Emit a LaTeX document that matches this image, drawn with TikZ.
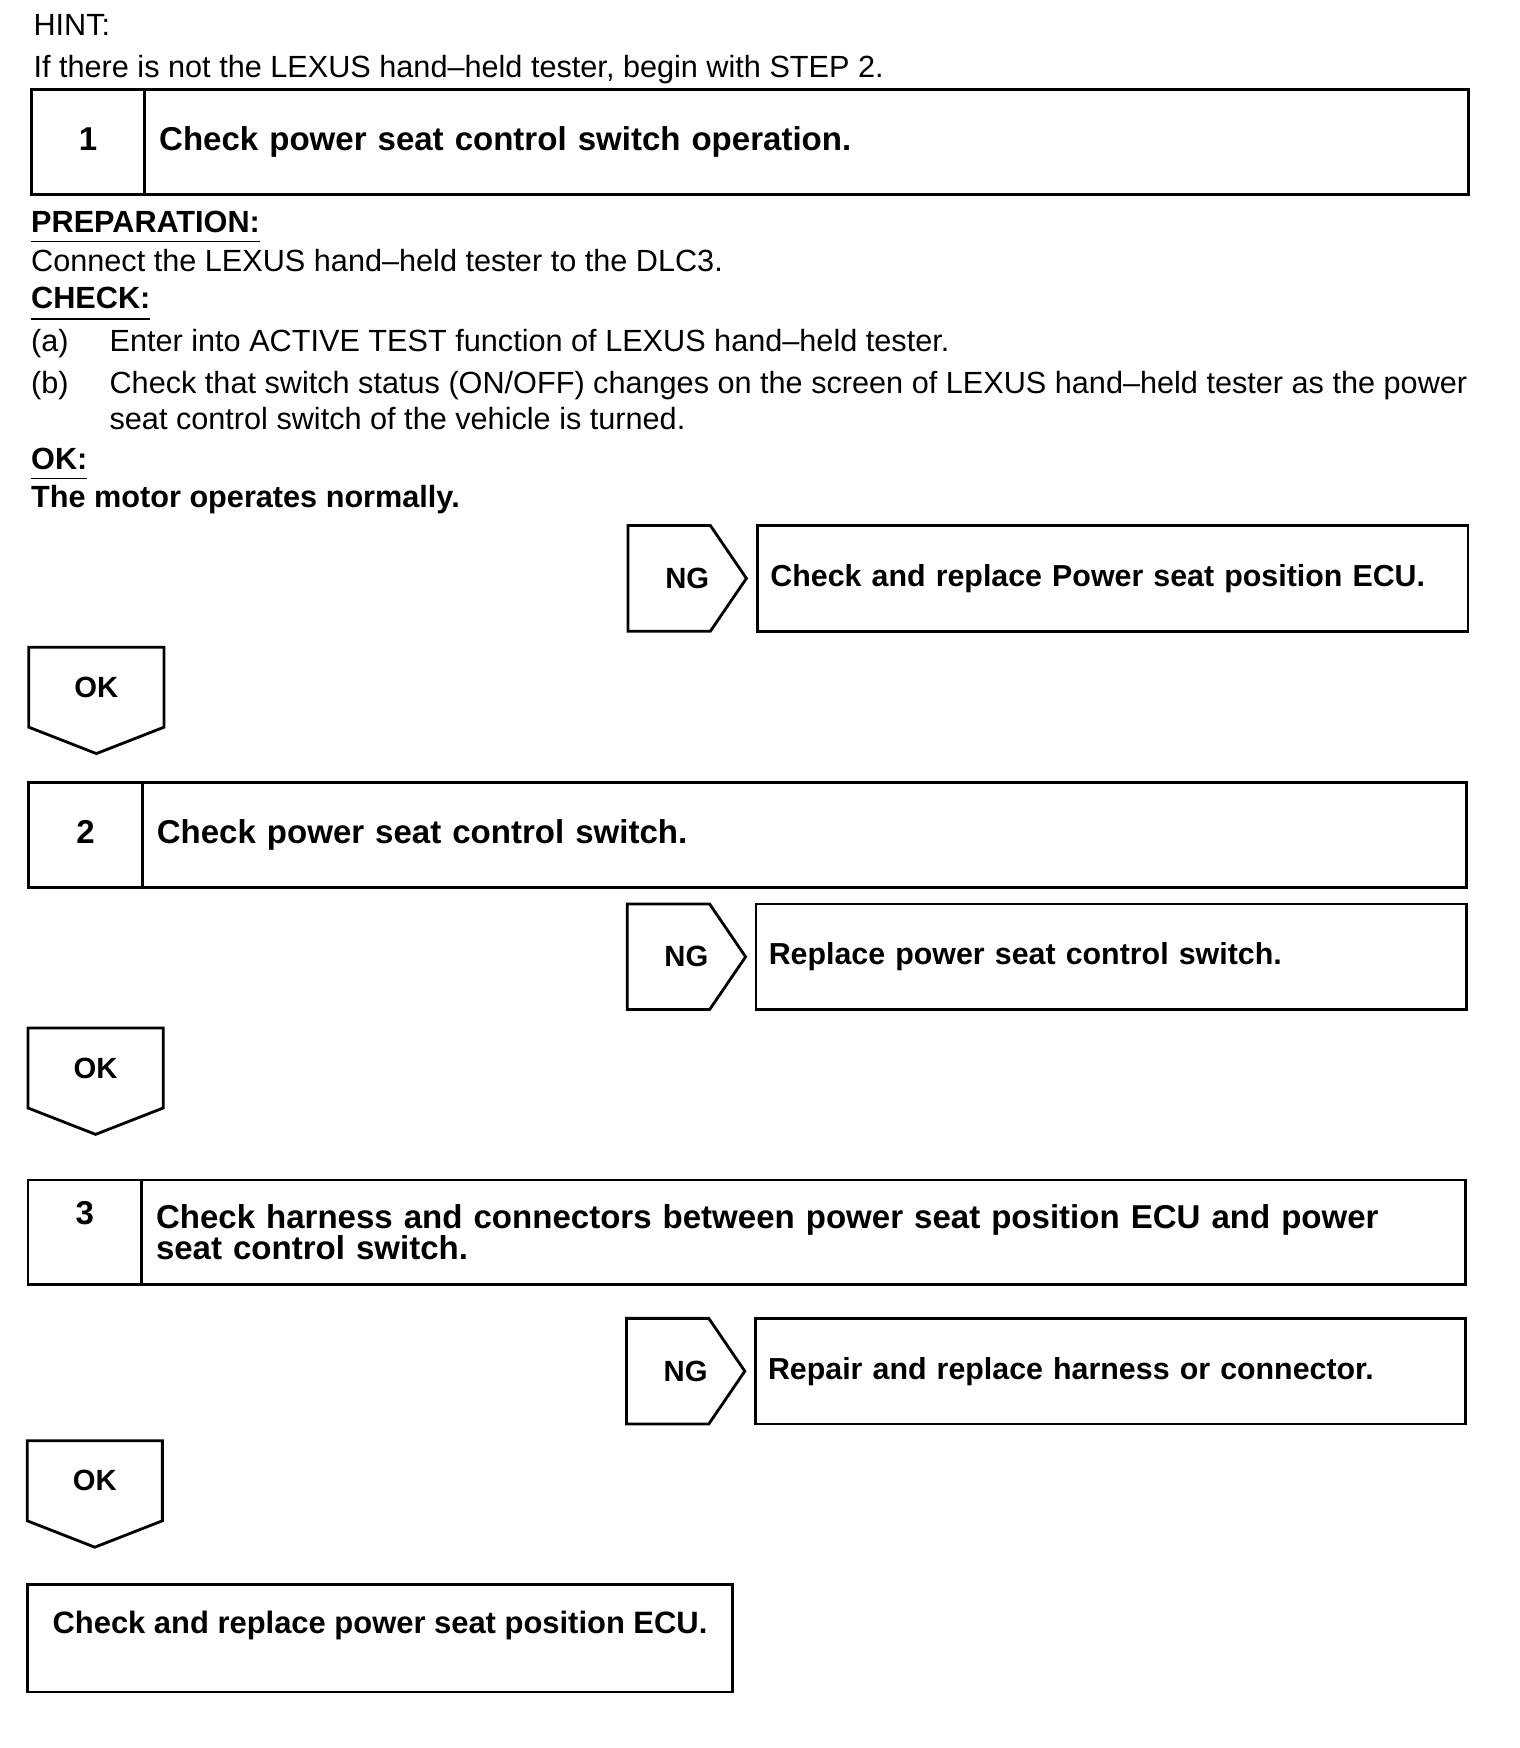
\documentclass[tikz,border=0pt]{standalone}
\usepackage{fontspec}
\setmainfont{Liberation Sans}
\usepackage{tikz}

\tikzset{
  bodytext/.style={anchor=base west,inner sep=0pt,outer sep=0pt,font=\fontsize{10.9}{13.9}\selectfont},
  headtext/.style={bodytext,font=\fontsize{10.9}{13.9}\selectfont\bfseries},
  headline/.style={line width=0.6pt},
  stepnum/.style={draw,line width=1pt,anchor=north west,outer sep=0pt,inner sep=0pt,minimum width=1.42cm,minimum height=1.31cm,text depth=0.07cm,font=\fontsize{11.75}{11.1}\selectfont\bfseries},
  steptitle/.style={draw,line width=1pt,anchor=north west,outer sep=0pt,inner xsep=0.18cm,inner ysep=0pt,minimum height=1.31cm,text width=16.19cm,align=left,font=\fontsize{11.75}{11.1}\selectfont\bfseries},
  ngtag/.style={anchor=north west,outer sep=0pt,inner sep=0pt,minimum width=1.48cm,minimum height=1.32cm,font=\fontsize{10.4}{12}\selectfont\bfseries},
  oktag/.style={anchor=north west,outer sep=0pt,inner sep=0pt,minimum width=1.69cm,minimum height=1.00cm,font=\fontsize{10.4}{12}\selectfont\bfseries},
  tagline/.style={line width=1pt},
  ngbox/.style={draw,line width=1pt,anchor=north west,outer sep=0pt,inner xsep=0.16cm,inner ysep=0pt,minimum height=1.32cm,text width=8.56cm,align=left,font=\fontsize{10.8}{13}\selectfont\bfseries},
  finalbox/.style={draw,line width=1pt,anchor=north west,outer sep=0pt,minimum width=8.82cm,minimum height=1.34cm,text height=0.30cm,text depth=0.42cm,font=\fontsize{11}{13}\selectfont\bfseries}
}

\begin{document}
\begin{tikzpicture}[x=1cm,y=1cm]
\path[use as bounding box] (0,0) rectangle (19.00,21.85);
\node[bodytext] (hint) at (0.42,21.41) {HINT:};
\node[bodytext] (hinttext) at (0.42,20.88) {If there is not the LEXUS hand–held tester, begin with STEP 2.};
\node[stepnum] (numone) at (0.39,20.73) {1};
\node[steptitle] (stepone) at (numone.north east) {Check power seat control switch operation.};
\node[headtext] (prep) at (0.39,18.94) {PREPARATION:};
\draw[headline] ([yshift=-0.11cm]prep.base west) -- ([yshift=-0.11cm]prep.base east);
\node[bodytext] (preptext) at (0.39,18.45) {Connect the LEXUS hand–held tester to the DLC3.};
\node[headtext] (check) at (0.39,17.99) {CHECK:};
\draw[headline] ([yshift=-0.13cm]check.base west) -- ([yshift=-0.13cm]check.base east);
\node[bodytext] (itema) at (0.39,17.45) {(a)};
\node[bodytext] (texta) at (1.37,17.45) {Enter into ACTIVE TEST function of LEXUS hand–held tester.};
\node[bodytext] (itemb) at (0.39,16.93) {(b)};
\node[bodytext] (textb) at (1.37,16.93) {Check that switch status (ON/OFF) changes on the screen of LEXUS hand–held tester as the power};
\node[bodytext] (textbb) at (1.37,16.48) {seat control switch of the vehicle is turned.};
\node[headtext] (okhead) at (0.39,15.98) {OK:};
\draw[headline] ([yshift=-0.11cm]okhead.base west) -- ([yshift=-0.11cm]okhead.base east);
\node[headtext] (oktext) at (0.39,15.51) {The motor operates normally.};

\node[ngtag] (ngone) at (7.85,15.28) {NG};
\draw[tagline] (ngone.north west) -- ([xshift=-0.45cm]ngone.north east) -- (ngone.east) -- ([xshift=-0.45cm]ngone.south east) -- (ngone.south west) -- cycle;
\node[ngbox] (fixone) at (9.47,15.28) {Check and replace Power seat position ECU.};
\node[oktag] (okone) at (0.36,13.76) {OK};
\draw[tagline] (okone.north west) -- (okone.north east) -- (okone.south east) -- ([yshift=-0.33cm]okone.south) -- (okone.south west) -- cycle;

\node[stepnum] (numtwo) at (0.36,12.07) {2};
\node[steptitle] (steptwo) at (numtwo.north east) {Check power seat control switch.};
\node[ngtag] (ngtwo) at (7.84,10.55) {NG};
\draw[tagline] (ngtwo.north west) -- ([xshift=-0.45cm]ngtwo.north east) -- (ngtwo.east) -- ([xshift=-0.45cm]ngtwo.south east) -- (ngtwo.south west) -- cycle;
\node[ngbox] (fixtwo) at (9.45,10.55) {Replace power seat control switch.};
\node[oktag] (oktwo) at (0.35,9.00) {OK};
\draw[tagline] (oktwo.north west) -- (oktwo.north east) -- (oktwo.south east) -- ([yshift=-0.33cm]oktwo.south) -- (oktwo.south west) -- cycle;

\node[stepnum,text depth=0.48cm] (numthree) at (0.35,7.10) {3};
\node[steptitle] (stepthree) at (numthree.north east) {Check harness and connectors between power seat position ECU and power\\seat control switch.};
\node[ngtag] (ngthree) at (7.83,5.37) {NG};
\draw[tagline] (ngthree.north west) -- ([xshift=-0.45cm]ngthree.north east) -- (ngthree.east) -- ([xshift=-0.45cm]ngthree.south east) -- (ngthree.south west) -- cycle;
\node[ngbox] (fixthree) at (9.44,5.37) {Repair and replace harness or connector.};
\node[oktag] (okthree) at (0.34,3.84) {OK};
\draw[tagline] (okthree.north west) -- (okthree.north east) -- (okthree.south east) -- ([yshift=-0.33cm]okthree.south) -- (okthree.south west) -- cycle;

\node[finalbox] (lastfix) at (0.34,2.04) {Check and replace power seat position ECU.};
\end{tikzpicture}
\end{document}
